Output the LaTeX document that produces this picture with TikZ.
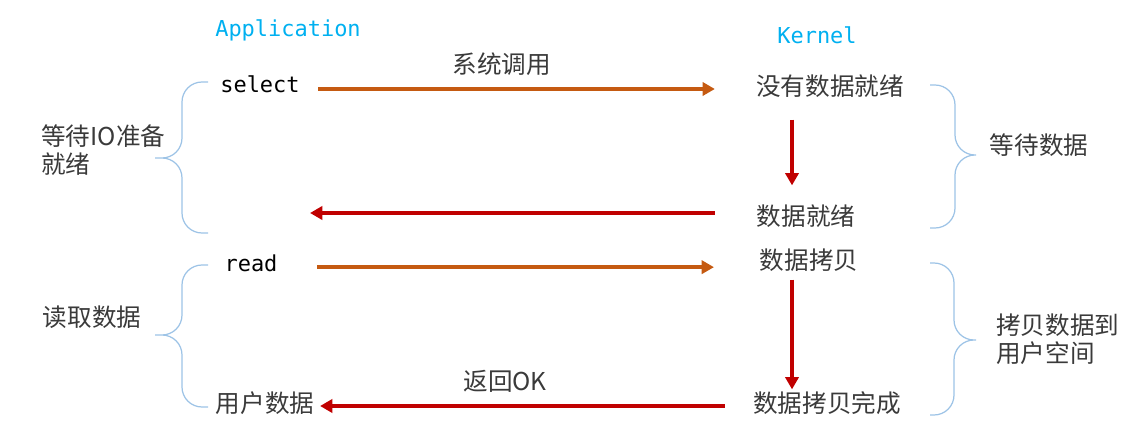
\documentclass[tikz,border=0pt]{standalone}
\usepackage{fontspec}
\setmainfont{Noto Sans CJK SC}
\setmonofont{DejaVu Sans Mono}
\usepackage{xcolor}
\usetikzlibrary{arrows.meta,positioning}

\definecolor{sideblue}{HTML}{00B0F0}
\definecolor{callorange}{HTML}{C55A11}
\definecolor{backred}{HTML}{C00000}
\definecolor{bracecol}{HTML}{9DC3E6}
\definecolor{txtgray}{HTML}{3A3A3A}

\begin{document}
\begin{tikzpicture}[
    x=0.02cm, y=-0.02cm,
    side/.style={font=\ttfamily\fontsize{12.5}{15}\selectfont, text=sideblue, inner sep=0pt, anchor=base},
    call/.style={font=\ttfamily\fontsize{12.5}{15}\selectfont, text=black, inner sep=0pt, text height=0.75em, text depth=0.2em, anchor=base},
    state/.style={font=\fontsize{14}{17}\selectfont, text=txtgray, inner sep=0pt, text height=0.85em, text depth=0.15em},
    note/.style={font=\fontsize{14}{16}\selectfont, text=txtgray, inner sep=0pt, align=left},
    label/.style={font=\fontsize{14}{17}\selectfont, text=txtgray, inner sep=0pt, text height=0.85em, text depth=0.15em},
    callarrow/.style={-{Triangle[length=7pt,width=7.5pt]}, line width=2pt, draw=callorange},
    backarrow/.style={-{Triangle[length=7pt,width=7.5pt]}, line width=2.2pt, draw=backred},
    curly/.style={draw=bracecol, line width=0.7pt, rounded corners=0.4cm}
]
    \useasboundingbox (0,0) rectangle (1136,435);

    % Column titles
    \node[side] (app) at (288,37) {Application};
    \node[side] (kern) at (817,44) {Kernel};

    % Application side
    \node[call] (sel) at (260,93) {select};
    \node[call] (rd) at (251,272) {read};
    \node[state] (udata) at (265,406) {用户数据};

    % Kernel side
    \node[state] (nodata) at (830,89) {没有数据就绪};
    \node[state] (ready) at (806,219) {数据就绪};
    \node[state] (copy) at (809,263) {数据拷贝};
    \node[state] (done) at (827,406) {数据拷贝完成};

    % Phase notes
    \node[note, anchor=west] (waitio) at (41,150) {等待IO准备\\就绪};
    \node[state] (readdata) at (92,320) {读取数据};
    \node[state] (waitdata) at (1039,148) {等待数据};
    \node[note, anchor=west] (copyuser) at (996,339) {拷贝数据到\\用户空间};

    % Calls into the kernel
    \draw[callarrow, shorten <=0.36cm, shorten >=0.82cm] (nodata.west -| sel.east) -- node[label, pos=0.443, above=6.5pt] (syscall) {系统调用} (nodata.west);
    \draw[callarrow, shorten <=0.79cm, shorten >=0.91cm] (rd.east) -- (rd.east -| copy.west);

    % Kernel steps
    \draw[backarrow, shorten <=0.43cm, shorten >=0.49cm] ([xshift=-0.76cm]nodata.south) -- ([xshift=-0.76cm]nodata.south |- ready.north);
    \draw[backarrow, shorten <=0.15cm, shorten >=0.15cm] ([xshift=-0.34cm]copy.south) -- ([xshift=-0.34cm]copy.south |- done.north);

    % Returns to the application
    \draw[backarrow, shorten <=0.83cm, shorten >=0.2cm] ([yshift=0.12cm]ready.west) -- ([yshift=0.12cm]ready.west -| sel.east);
    \draw[backarrow, shorten <=0.56cm, shorten >=0.11cm] (done.west) -- node[label, pos=0.565, above=6pt] (retok) {返回OK} (done.west -| udata.east);

    % Braces
    \draw[curly] (208,82) -| (182,158) -- (155,158) (155,158) -- (182,158) |- (208,233);
    \draw[curly] (208,265) -| (182,335) -- (155,335) (155,335) -- (182,335) |- (208,407);
    \draw[curly] (930,85) -| (955,155) -- (976,155) (976,155) -- (955,155) |- (930,228);
    \draw[curly] (930,263) -| (954,340) -- (976,340) (976,340) -- (954,340) |- (930,415);

\end{tikzpicture}
\end{document}
